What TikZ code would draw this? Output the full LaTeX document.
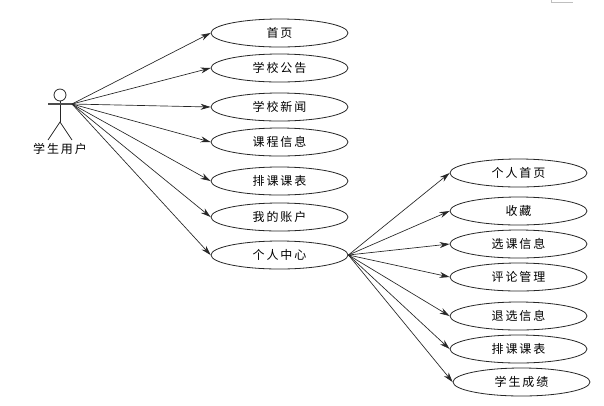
\documentclass[tikz,border=0pt]{standalone}
\usepackage{fontspec}
\usepackage{tikz}
\usetikzlibrary{arrows.meta,shapes.geometric}
\newfontfamily\cjk[LetterSpace=16]{Noto Sans CJK SC}

\begin{document}
\begin{tikzpicture}[x=0.75pt, y=-0.75pt, >={Stealth[length=7.5pt, width=4.5pt]}, every node/.style={font=\cjk\fontsize{9pt}{11pt}\selectfont},
    usecase/.style={ellipse, draw=black!85, line width=0.6pt, minimum width=102.75pt, minimum height=21pt, inner sep=0pt},
    link/.style={->, draw=black!85, line width=0.5pt}]
    \useasboundingbox (0, 0) rectangle (604, 405);

    % Stray corner mark
    \draw[gray!50, line width=0.75pt] (551, 0) -- (551, 2) -- (573, 2);

    % Actor
    \coordinate (hand) at (72, 104);
    \coordinate (shoulder) at (48, 104);
    \coordinate (hip) at (60, 122);
    \draw[black!85, line width=0.6pt] (60, 95) circle (6);
    \draw[black!85, line width=0.6pt] (60, 101) -- (hip);
    \draw[black!70, line width=0.8pt] (shoulder) -- (hand);
    \draw[black!85, line width=0.6pt] (48, 140) -- (hip) -- (72, 140);
    \node (actorlabel) at (60, 149) {学生用户};

    % Use cases of the student
    \foreach \i/\y/\name in {1/33/首页, 2/68/学校公告, 3/107/学校新闻, 4/142/课程信息, 5/181/排课课表, 6/217/我的账户, 7/255/个人中心} {
      \node[usecase] (main\i) at (279.5, \y) {\name};
      \draw[link] (hand) -- (main\i.west);
    }

    % Personal centre
    \foreach \i/\x/\y/\name in {1/518.5/173/个人首页, 2/518.5/211/收藏, 3/518.5/244/选课信息, 4/518.5/277/评论管理, 5/518.5/316/退选信息, 6/518.5/349/排课课表, 7/521.5/382/学生成绩} {
      \node[usecase] (sub\i) at (\x, \y) {\name};
      \draw[link] (main7.east) -- (sub\i.west);
    }
\end{tikzpicture}
\end{document}
